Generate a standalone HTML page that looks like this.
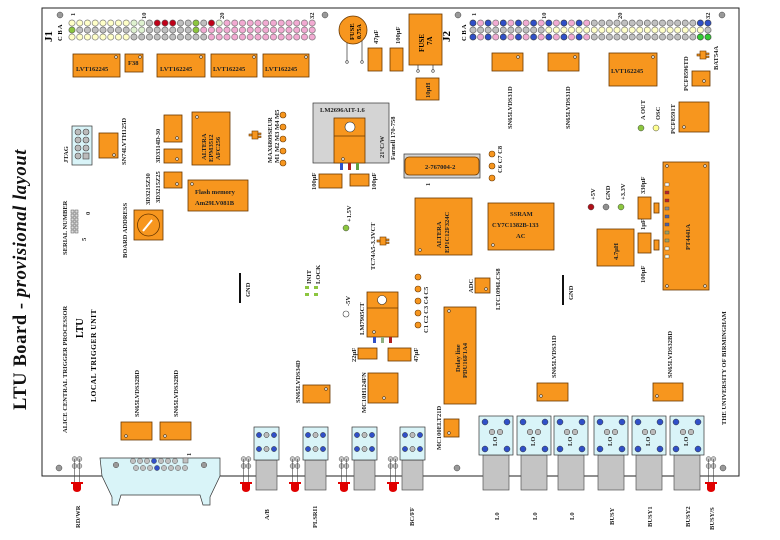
<!DOCTYPE html>
<html><head><meta charset="utf-8"><style>
html,body{margin:0;padding:0;background:#fff;}
svg{display:block;font-family:"Liberation Serif",serif;font-weight:bold;}
.o{fill:#f7961e;stroke:#6a3800;stroke-width:.8}
.t{font-size:6.5px;fill:#222}
.w{fill:#fff;stroke:#333;stroke-width:.6}
.lb{fill:#d9f4f8;stroke:#333;stroke-width:.7}
.g{fill:#c4c4c4;stroke:#555;stroke-width:.7}
</style></head><body>
<svg width="780" height="540" viewBox="0 0 780 540" xmlns="http://www.w3.org/2000/svg">
<defs>
<pattern id="pY" patternUnits="userSpaceOnUse" x="68.1" y="19.5" width="7.75" height="7"><circle cx="3.875" cy="3.5" r="3.1" fill="#ffffc8" stroke="#666" stroke-width=".6"/></pattern>
<pattern id="pG" patternUnits="userSpaceOnUse" x="68.1" y="19.5" width="7.75" height="7"><circle cx="3.875" cy="3.5" r="3.1" fill="#c0c0c0" stroke="#555" stroke-width=".6"/></pattern>
<pattern id="pP" patternUnits="userSpaceOnUse" x="68.1" y="19.5" width="7.75" height="7"><circle cx="3.875" cy="3.5" r="3.1" fill="#f2aad2" stroke="#666" stroke-width=".6"/></pattern>
<pattern id="pR" patternUnits="userSpaceOnUse" x="68.1" y="19.5" width="7.75" height="7"><circle cx="3.875" cy="3.5" r="3.1" fill="#c00018" stroke="#555" stroke-width=".6"/></pattern>
<pattern id="pL" patternUnits="userSpaceOnUse" x="68.1" y="19.5" width="7.75" height="7"><circle cx="3.875" cy="3.5" r="3.1" fill="#dff2d0" stroke="#666" stroke-width=".6"/></pattern>
<pattern id="pN" patternUnits="userSpaceOnUse" x="68.1" y="19.5" width="7.75" height="7"><circle cx="3.875" cy="3.5" r="3.1" fill="#8cc63f" stroke="#555" stroke-width=".6"/></pattern>
<pattern id="qBP" patternUnits="userSpaceOnUse" x="469.2" y="19.5" width="15.16" height="7"><circle cx="3.79" cy="3.5" r="3.1" fill="#3050c8" stroke="#333" stroke-width=".6"/><circle cx="11.37" cy="3.5" r="3.1" fill="#f2aad2" stroke="#666" stroke-width=".6"/></pattern>
<pattern id="qG" patternUnits="userSpaceOnUse" x="469.2" y="19.5" width="7.58" height="7"><circle cx="3.79" cy="3.5" r="3.1" fill="#c0c0c0" stroke="#555" stroke-width=".6"/></pattern>
<pattern id="qY" patternUnits="userSpaceOnUse" x="469.2" y="19.5" width="7.58" height="7"><circle cx="3.79" cy="3.5" r="3.1" fill="#ffffc8" stroke="#666" stroke-width=".6"/></pattern>
<pattern id="qB" patternUnits="userSpaceOnUse" x="469.2" y="19.5" width="7.58" height="7"><circle cx="3.79" cy="3.5" r="3.1" fill="#3050c8" stroke="#333" stroke-width=".6"/></pattern>
<pattern id="qN" patternUnits="userSpaceOnUse" x="469.2" y="19.5" width="7.58" height="7"><circle cx="3.79" cy="3.5" r="3.1" fill="#33cc33" stroke="#333" stroke-width=".6"/></pattern>
</defs>

<rect x="42" y="8" width="697" height="468" fill="#fff" stroke="#222" stroke-width="1"/>

<text transform="translate(26,410) rotate(-90)" font-size="18.5" letter-spacing=".6" fill="#111">LTU Board - <tspan font-style="italic">provisional layout</tspan></text>

<!-- J1 -->
<circle cx="60" cy="15" r="3" fill="#999" stroke="#444" stroke-width=".5"/>
<circle cx="325" cy="15" r="3" fill="#999" stroke="#444" stroke-width=".5"/>
<text transform="translate(52,42) rotate(-90)" font-size="11">J1</text>
<text transform="translate(62,41) rotate(-90)" font-size="6.5">C B A</text>
<text transform="translate(75,16) rotate(-90)" class="t">1</text>
<text transform="translate(146,19) rotate(-90)" class="t">10</text>
<text transform="translate(224,19) rotate(-90)" class="t">20</text>
<text transform="translate(314,19) rotate(-90)" class="t">32</text>
<rect x="68.1" y="19.5" width="62" height="7" fill="url(#pY)"/>
<rect x="130.1" y="19.5" width="15.5" height="7" fill="url(#pL)"/>
<rect x="145.6" y="19.5" width="7.75" height="7" fill="url(#pG)"/>
<rect x="153.35" y="19.5" width="23.25" height="7" fill="url(#pR)"/>
<rect x="176.6" y="19.5" width="15.5" height="7" fill="url(#pG)"/>
<rect x="192.1" y="19.5" width="7.75" height="7" fill="url(#pN)"/>
<rect x="199.85" y="19.5" width="7.75" height="7" fill="url(#pG)"/>
<rect x="207.6" y="19.5" width="7.75" height="7" fill="url(#pR)"/>
<rect x="215.35" y="19.5" width="7.75" height="7" fill="url(#pL)"/>
<rect x="223.1" y="19.5" width="93" height="7" fill="url(#pP)"/>
<rect x="68.1" y="26.5" width="7.75" height="7" fill="url(#pN)"/>
<rect x="75.85" y="26.5" width="54.25" height="7" fill="url(#pG)"/>
<rect x="130.1" y="26.5" width="15.5" height="7" fill="url(#pL)"/>
<rect x="145.6" y="26.5" width="46.5" height="7" fill="url(#pG)"/>
<rect x="192.1" y="26.5" width="7.75" height="7" fill="url(#pN)"/>
<rect x="199.85" y="26.5" width="116.25" height="7" fill="url(#pP)"/>
<rect x="68.1" y="33.5" width="62" height="7" fill="url(#pY)"/>
<rect x="130.1" y="33.5" width="77.5" height="7" fill="url(#pG)"/>
<rect x="207.6" y="33.5" width="108.5" height="7" fill="url(#pP)"/>

<!-- J2 -->
<circle cx="458" cy="15" r="3" fill="#999" stroke="#444" stroke-width=".5"/>
<circle cx="722" cy="15" r="3" fill="#999" stroke="#444" stroke-width=".5"/>
<text transform="translate(450,42) rotate(-90)" font-size="11">J2</text>
<text transform="translate(466,41) rotate(-90)" font-size="6.5">C B A</text>
<text transform="translate(476,16) rotate(-90)" class="t">1</text>
<text transform="translate(546,19) rotate(-90)" class="t">10</text>
<text transform="translate(622,19) rotate(-90)" class="t">20</text>
<text transform="translate(710,19) rotate(-90)" class="t">32</text>
<rect x="469.2" y="19.5" width="121.3" height="7" fill="url(#qBP)"/>
<rect x="590.5" y="19.5" width="106.1" height="7" fill="url(#qG)"/>
<rect x="696.6" y="19.5" width="15.2" height="7" fill="url(#qB)"/>
<rect x="469.2" y="26.5" width="75.8" height="7" fill="url(#qG)"/>
<rect x="545" y="26.5" width="159.2" height="7" fill="url(#qY)"/>
<rect x="704.2" y="26.5" width="7.6" height="7" fill="url(#qG)"/>
<rect x="469.2" y="33.5" width="121.3" height="7" fill="url(#qBP)"/>
<rect x="590.5" y="33.5" width="106.1" height="7" fill="url(#qG)"/>
<rect x="696.6" y="33.5" width="15.2" height="7" fill="url(#qN)"/>

<rect class="o" x="73" y="54" width="47" height="23"/><text class="t" x="76" y="71">LVT162245</text><circle class="w" cx="116" cy="57" r="1.3"/>
<rect class="o" x="125" y="54" width="18" height="18"/><text class="t" x="128" y="65">F38</text><circle class="w" cx="140" cy="57" r="1.3"/>
<rect class="o" x="157" y="54" width="48" height="23"/><text class="t" x="160" y="71">LVT162245</text><circle class="w" cx="201" cy="57" r="1.3"/>
<rect class="o" x="211" y="54" width="46" height="23"/><text class="t" x="213" y="71">LVT162245</text><circle class="w" cx="254" cy="57" r="1.3"/>
<rect class="o" x="263" y="54" width="46" height="23"/><text class="t" x="265" y="71">LVT162245</text><circle class="w" cx="306" cy="57" r="1.3"/>

<line x1="347" y1="40" x2="347" y2="62" stroke="#333" stroke-width=".7"/><line x1="362" y1="40" x2="362" y2="62" stroke="#333" stroke-width=".7"/>
<circle cx="347" cy="62" r="1.3" class="w"/><circle cx="362" cy="62" r="1.3" class="w"/>
<circle class="o" cx="353" cy="30" r="14"/>
<text transform="translate(354,40) rotate(-90)" font-size="6.5">FUSE</text>
<text transform="translate(361,39) rotate(-90)" font-size="6">0.75A</text>
<rect class="o" x="368" y="48" width="14" height="23"/><text transform="translate(378,44) rotate(-90)" class="t">47µF</text>
<rect class="o" x="390" y="48" width="13" height="23"/><text transform="translate(400,44) rotate(-90)" class="t">100µF</text>
<rect class="o" x="409" y="14" width="33" height="51"/>
<text transform="translate(424,52) rotate(-90)" font-size="7">FUSE</text><text transform="translate(432,45) rotate(-90)" font-size="7">7A</text>
<line x1="418" y1="65" x2="418" y2="71" stroke="#333" stroke-width=".7"/><line x1="433" y1="65" x2="433" y2="71" stroke="#333" stroke-width=".7"/>
<circle cx="418" cy="71" r="1.3" class="w"/><circle cx="433" cy="71" r="1.3" class="w"/>
<rect class="o" x="416" y="78" width="23" height="22"/><text transform="translate(430,98) rotate(-90)" class="t">10µH</text>

<rect class="lb" x="72" y="126" width="20" height="39"/>
<g fill="#bbb" stroke="#444" stroke-width=".6">
<circle cx="78" cy="132" r="3"/><circle cx="86" cy="132" r="3"/><circle cx="78" cy="140" r="3"/><circle cx="86" cy="140" r="3"/>
<circle cx="78" cy="148" r="3"/><circle cx="86" cy="148" r="3"/><circle cx="78" cy="156" r="3"/><rect x="83" y="153" width="6" height="6"/></g>
<text transform="translate(68,163) rotate(-90)" class="t">JTAG</text>
<rect class="o" x="99" y="133" width="19" height="25"/><circle class="w" cx="114" cy="155" r="1.3"/>
<text transform="translate(126,165) rotate(-90)" class="t">SN74LVTH125D</text>

<rect class="o" x="164" y="115" width="18" height="27"/><circle class="w" cx="177" cy="138" r="1.3"/>
<rect class="o" x="164" y="149" width="18" height="14"/><circle class="w" cx="177" cy="159" r="1.3"/>
<rect class="o" x="164" y="172" width="18" height="16"/><circle class="w" cx="177" cy="184" r="1.3"/>
<text transform="translate(150,205) rotate(-90)" class="t">3D3215Z30</text>
<text transform="translate(160,203) rotate(-90)" class="t">3D3215Z25</text>
<text transform="translate(160,163) rotate(-90)" class="t">3D3314D-30</text>

<rect class="o" x="192" y="112" width="38" height="53"/><circle class="w" cx="197" cy="117" r="1.3"/>
<text transform="translate(206,160) rotate(-90)" class="t">ALTERA</text>
<text transform="translate(213,162) rotate(-90)" class="t">EPM3512</text>
<text transform="translate(220,160) rotate(-90)" class="t">AFC256</text>

<rect class="o" x="188" y="180" width="60" height="31"/><circle class="w" cx="192" cy="184" r="1.3"/>
<text x="195" y="194" class="t">Flash memory</text><text x="195" y="205" class="t">Am29LV081B</text>

<g fill="#f7961e" stroke="#6a3800" stroke-width=".6">
<rect x="252" y="131" width="6" height="8"/><rect x="258" y="133" width="3" height="1.5"/><rect x="258" y="136" width="3" height="1.5"/><rect x="249" y="134" width="3" height="2"/>
<rect x="380" y="237" width="6" height="8"/><rect x="386" y="239" width="3" height="1.5"/><rect x="386" y="242" width="3" height="1.5"/><rect x="377" y="240" width="3" height="2"/>
<rect x="700" y="51" width="6" height="8"/><rect x="706" y="53" width="3" height="1.5"/><rect x="706" y="56" width="3" height="1.5"/><rect x="697" y="54" width="3" height="2"/>
</g>
<text transform="translate(272,163) rotate(-90)" class="t">MAX6809SEUR</text>
<text transform="translate(279,163) rotate(-90)" class="t">M1 M2 M3 M4 M5</text>
<g fill="#f7961e" stroke="#6a3800" stroke-width=".6">
<circle cx="283" cy="115" r="3"/><circle cx="283" cy="127" r="3"/><circle cx="283" cy="139" r="3"/><circle cx="283" cy="151" r="3"/><circle cx="283" cy="163" r="3"/>
<circle cx="492" cy="154" r="3"/><circle cx="492" cy="166" r="3"/><circle cx="492" cy="178" r="3"/>
<circle cx="418" cy="277" r="3"/><circle cx="418" cy="289" r="3"/><circle cx="418" cy="301" r="3"/><circle cx="418" cy="313" r="3"/><circle cx="418" cy="325" r="3"/>
</g>
<text transform="translate(502,173) rotate(-90)" class="t">C6 C7 C8</text>
<text transform="translate(428,333) rotate(-90)" class="t">C1 C2 C3 C4 C5</text>

<text transform="translate(67,255) rotate(-90)" class="t">SERIAL NUMBER</text>
<g fill="#ddd" stroke="#555" stroke-width=".5">
<rect x="71" y="210" width="3" height="3"/><rect x="71" y="214" width="3" height="3"/><rect x="71" y="218" width="3" height="3"/><rect x="71" y="222" width="3" height="3"/><rect x="71" y="226" width="3" height="3"/><rect x="71" y="230" width="3" height="3"/>
<rect x="75" y="210" width="3" height="3"/><rect x="75" y="214" width="3" height="3"/><rect x="75" y="218" width="3" height="3"/><rect x="75" y="222" width="3" height="3"/><rect x="75" y="226" width="3" height="3"/><rect x="75" y="230" width="3" height="3"/>
</g>
<text transform="translate(86,241) rotate(-90)" class="t">5</text>
<text transform="translate(90,215) rotate(-90)" class="t">0</text>
<text transform="translate(127,258) rotate(-90)" class="t">BOARD ADDRESS</text>
<rect class="o" x="134" y="210" width="29" height="30"/>
<circle cx="148.5" cy="225" r="11" fill="none" stroke="#6a3800" stroke-width=".8"/>
<line x1="143" y1="231" x2="152" y2="220" stroke="#fff" stroke-width="2"/>

<rect x="313" y="103" width="76" height="60" fill="#d4d4d4" stroke="#333" stroke-width=".7"/>
<text x="320" y="112" class="t">LM2696AIT-1.6</text>
<rect class="o" x="334" y="118" width="31" height="45"/><line x1="334" y1="136" x2="365" y2="136" stroke="#6a3800" stroke-width=".7"/>
<circle cx="350" cy="127" r="5" fill="#fff" stroke="#333" stroke-width=".6"/><circle class="w" cx="343" cy="159" r="1.3"/>
<rect x="340" y="163" width="3" height="7" fill="#3050c8"/><rect x="348" y="163" width="3" height="7" fill="#b02020"/><rect x="356" y="163" width="3" height="7" fill="#60a040"/>
<text transform="translate(384,158) rotate(-90)" class="t">21°C/W</text>
<text transform="translate(395,160) rotate(-90)" class="t">Farnell 170-758</text>
<rect class="o" x="319" y="174" width="23" height="14"/><text transform="translate(316,190) rotate(-90)" class="t">100µF</text>
<rect class="o" x="350" y="174" width="19" height="12"/><text transform="translate(376,190) rotate(-90)" class="t">100µF</text>
<circle cx="346" cy="228" r="3" fill="#8cc63f" stroke="#444" stroke-width=".5"/>
<text transform="translate(351,222) rotate(-90)" class="t">+1.5V</text>
<text transform="translate(375,270) rotate(-90)" class="t">TC74A5-3.3VCT</text>

<rect x="404" y="154" width="76" height="24" fill="#d4d4d4" stroke="#333" stroke-width=".7"/>
<rect x="405" y="157" width="74" height="18" rx="4" class="o"/>
<text x="425" y="169" class="t">2-767004-2</text>
<text transform="translate(430,186) rotate(-90)" class="t">1</text>

<rect class="o" x="415" y="198" width="57" height="57"/><circle class="w" cx="420" cy="250" r="1.3"/>
<text transform="translate(441,248) rotate(-90)" class="t">ALTERA</text>
<text transform="translate(449,253) rotate(-90)" class="t">EP1C12F324C</text>

<rect class="o" x="488" y="203" width="66" height="47"/><circle class="w" cx="493" cy="245" r="1.3"/>
<text x="510" y="216" class="t">SSRAM</text><text x="492" y="227" class="t">CY7C1382B-133</text><text x="516" y="238" class="t">AC</text>

<circle cx="591" cy="207" r="3" fill="#b01018" stroke="#444" stroke-width=".5"/>
<circle cx="606" cy="207" r="3" fill="#909090" stroke="#444" stroke-width=".5"/>
<circle cx="621" cy="207" r="3" fill="#8cc63f" stroke="#444" stroke-width=".5"/>
<text transform="translate(595,200) rotate(-90)" class="t">+5V</text>
<text transform="translate(610,200) rotate(-90)" class="t">GND</text>
<text transform="translate(625,200) rotate(-90)" class="t">+3.3V</text>
<rect class="o" x="638" y="197" width="13" height="22"/><rect class="o" x="654" y="203" width="5" height="10"/>
<text transform="translate(645,194) rotate(-90)" class="t">330µF</text>
<rect class="o" x="638" y="233" width="13" height="20"/><rect class="o" x="654" y="240" width="5" height="10"/>
<text transform="translate(645,230) rotate(-90)" class="t">1µF</text>
<text transform="translate(645,283) rotate(-90)" class="t">100µF</text>
<rect class="o" x="597" y="229" width="37" height="37"/><text transform="translate(618,260) rotate(-90)" class="t">4.7µH</text>

<rect class="o" x="663" y="162" width="46" height="128"/>
<circle class="w" cx="667" cy="166" r="1.3"/><circle class="w" cx="705" cy="166" r="1.3"/><circle class="w" cx="667" cy="286" r="1.3"/><circle class="w" cx="705" cy="286" r="1.3"/>
<g stroke="#444" stroke-width=".4">
<rect x="665" y="183" width="4" height="3" fill="#fff"/><rect x="665" y="191" width="4" height="3" fill="#c02020"/><rect x="665" y="199" width="4" height="3" fill="#c02020"/><rect x="665" y="207" width="4" height="3" fill="#888"/><rect x="665" y="215" width="4" height="3" fill="#5060a0"/><rect x="665" y="223" width="4" height="3" fill="#5060a0"/><rect x="665" y="231" width="4" height="3" fill="#a0a060"/><rect x="665" y="239" width="4" height="3" fill="#a0a060"/><rect x="665" y="247" width="4" height="3" fill="#ffe"/><rect x="665" y="255" width="4" height="3" fill="#ffe"/>
</g>
<text transform="translate(690,250) rotate(-90)" class="t">PT4441A</text>

<rect class="o" x="679" y="102" width="30" height="30"/><circle class="w" cx="684" cy="127" r="1.3"/>
<text transform="translate(675,134) rotate(-90)" class="t">PCF8591T</text>
<rect class="o" x="692" y="71" width="18" height="15"/><circle class="w" cx="704" cy="81" r="1.3"/>
<text transform="translate(688,91) rotate(-90)" class="t">PCF8596TD</text>
<text transform="translate(718,70) rotate(-90)" class="t">BAT54A</text>
<circle cx="641" cy="128" r="3" fill="#8cc63f" stroke="#444" stroke-width=".5"/>
<circle cx="656" cy="128" r="3" fill="#ffff90" stroke="#444" stroke-width=".5"/>
<text transform="translate(645,120) rotate(-90)" class="t">A OUT</text>
<text transform="translate(660,120) rotate(-90)" class="t">OSC</text>

<rect class="o" x="609" y="53" width="48" height="33"/><circle class="w" cx="653" cy="57" r="1.3"/>
<text x="611" y="73" class="t">LVT162245</text>
<rect class="o" x="492" y="53" width="31" height="18"/><circle class="w" cx="518" cy="57" r="1.3"/>
<text transform="translate(512,129) rotate(-90)" class="t">SN65LVDS31D</text>
<rect class="o" x="548" y="53" width="31" height="18"/><circle class="w" cx="575" cy="57" r="1.3"/>
<text transform="translate(570,129) rotate(-90)" class="t">SN65LVDS31D</text>

<line x1="240" y1="273" x2="240" y2="303" stroke="#111" stroke-width="2"/>
<text transform="translate(250,297) rotate(-90)" class="t">GND</text>
<line x1="563" y1="275" x2="563" y2="305" stroke="#111" stroke-width="2"/>
<text transform="translate(573,300) rotate(-90)" class="t">GND</text>
<rect x="305" y="286" width="4" height="3" fill="#8cc63f"/><rect x="305" y="293" width="4" height="3" fill="#8cc63f"/>
<rect x="314" y="286" width="4" height="3" fill="#8cc63f"/><rect x="314" y="293" width="4" height="3" fill="#8cc63f"/>
<text transform="translate(311,284) rotate(-90)" class="t">INIT</text>
<text transform="translate(320,284) rotate(-90)" class="t">LOCK</text>

<circle cx="346" cy="314" r="3" fill="#fff" stroke="#444" stroke-width=".6"/>
<text transform="translate(350,306) rotate(-90)" class="t">-5V</text>
<rect class="o" x="367" y="292" width="31" height="45"/><line x1="367" y1="308" x2="398" y2="308" stroke="#6a3800" stroke-width=".7"/>
<circle cx="382" cy="300" r="4.5" fill="#fff" stroke="#333" stroke-width=".6"/><circle class="w" cx="374" cy="332" r="1.3"/>
<rect x="373" y="337" width="3" height="6" fill="#3050c8"/><rect x="381" y="337" width="3" height="6" fill="#90b080"/><rect x="389" y="337" width="3" height="6" fill="#b02020"/>
<text transform="translate(364,335) rotate(-90)" class="t">LM7905CT</text>
<rect class="o" x="358" y="348" width="19" height="11"/><text transform="translate(356,362) rotate(-90)" class="t">22µF</text>
<rect class="o" x="388" y="348" width="23" height="13"/><text transform="translate(418,362) rotate(-90)" class="t">47µF</text>
<rect class="o" x="368" y="373" width="30" height="30"/><circle class="w" cx="384" cy="398" r="1.3"/>
<text transform="translate(366,413) rotate(-90)" class="t">MC10H124FN</text>

<rect class="o" x="475" y="278" width="15" height="15"/><circle class="w" cx="486" cy="289" r="1.3"/>
<text transform="translate(473,293) rotate(-90)" class="t">ADC</text>
<text transform="translate(500,310) rotate(-90)" class="t">LTC1096LCS8</text>
<rect class="o" x="444" y="307" width="32" height="97"/><circle class="w" cx="449" cy="311" r="1.3"/>
<text transform="translate(460,372) rotate(-90)" class="t">Delay line</text>
<text transform="translate(467,378) rotate(-90)" class="t">PDU16F1A4</text>

<rect class="o" x="303" y="385" width="27" height="18"/><circle class="w" cx="326" cy="389" r="1.3"/>
<text transform="translate(300,403) rotate(-90)" class="t">SN65LVDS34D</text>
<rect class="o" x="444" y="419" width="15" height="18"/><circle class="w" cx="449" cy="433" r="1.3"/>
<text transform="translate(441,450) rotate(-90)" class="t">MC100ELT21D</text>
<rect class="o" x="537" y="383" width="31" height="18"/><circle class="w" cx="541" cy="396" r="1.3"/>
<text transform="translate(556,378) rotate(-90)" class="t">SN65LVDS31D</text>
<rect class="o" x="653" y="383" width="30" height="18"/><circle class="w" cx="657" cy="396" r="1.3"/>
<text transform="translate(672,378) rotate(-90)" class="t">SN65LVDS32BD</text>
<text transform="translate(726,425) rotate(-90)" class="t">THE UNIVERSITY OF BIRMINGHAM</text>

<text transform="translate(67,433) rotate(-90)" class="t">ALICE CENTRAL TRIGGER PROCESSOR</text>
<text transform="translate(83,338) rotate(-90)" font-size="10">LTU</text>
<text transform="translate(96,402) rotate(-90)" font-size="7.5" letter-spacing=".5">LOCAL TRIGGER UNIT</text>
<text transform="translate(139,417) rotate(-90)" class="t">SN65LVDS32BD</text>
<text transform="translate(178,417) rotate(-90)" class="t">SN65LVDS32BD</text>
<rect class="o" x="121" y="422" width="31" height="18"/><circle class="w" cx="126" cy="436" r="1.3"/>
<rect class="o" x="160" y="422" width="31" height="18"/><circle class="w" cx="165" cy="436" r="1.3"/>

<path d="M100 458 H220 V476 L210 497 V505 H203 L200 495 H121 L118 505 H112 V497 L102 476 Z" class="lb"/>
<g fill="#c0c0c0" stroke="#555" stroke-width=".5">
<circle cx="116" cy="465" r="2.8" fill="#999"/><circle cx="204" cy="465" r="2.8" fill="#999"/>
<circle cx="133" cy="461" r="2.6"/><circle cx="140" cy="461" r="2.6"/><circle cx="147" cy="461" r="2.6"/><circle cx="154" cy="461" r="2.6" fill="#3050c8"/><circle cx="161" cy="461" r="2.6"/><circle cx="168" cy="461" r="2.6"/><circle cx="175" cy="461" r="2.6"/><rect x="183" y="458" width="5" height="5"/>
<circle cx="136" cy="468" r="2.6"/><circle cx="143" cy="468" r="2.6"/><circle cx="150" cy="468" r="2.6"/><circle cx="157" cy="468" r="2.6" fill="#3050c8"/><circle cx="164" cy="468" r="2.6"/><circle cx="171" cy="468" r="2.6"/><circle cx="178" cy="468" r="2.6"/><circle cx="185" cy="468" r="2.6"/>
</g>
<text transform="translate(191,456) rotate(-90)" class="t">1</text>
<circle cx="59" cy="468" r="3" fill="#999" stroke="#444" stroke-width=".5"/>
<circle cx="457" cy="468" r="3" fill="#999" stroke="#444" stroke-width=".5"/>
<circle cx="723" cy="468" r="3" fill="#999" stroke="#444" stroke-width=".5"/>

<g>
<g transform="translate(77,0)"><g fill="#c8c8c8" stroke="#555" stroke-width=".5"><circle cx="-2.5" cy="459" r="2.4"/><circle cx="2.5" cy="459" r="2.4"/><circle cx="-2.5" cy="466" r="2.4"/><circle cx="2.5" cy="466" r="2.4"/></g><line x1="-2.5" y1="459" x2="-2.5" y2="482" stroke="#444" stroke-width=".6"/><line x1="2.5" y1="459" x2="2.5" y2="482" stroke="#444" stroke-width=".6"/><path d="M-6 482 H6 V484 H4 V489 A4 3 0 0 1 -4 489 V484 H-6 Z" fill="#e00000"/></g>
<g transform="translate(246,0)"><g fill="#c8c8c8" stroke="#555" stroke-width=".5"><circle cx="-2.5" cy="459" r="2.4"/><circle cx="2.5" cy="459" r="2.4"/><circle cx="-2.5" cy="466" r="2.4"/><circle cx="2.5" cy="466" r="2.4"/></g><line x1="-2.5" y1="459" x2="-2.5" y2="482" stroke="#444" stroke-width=".6"/><line x1="2.5" y1="459" x2="2.5" y2="482" stroke="#444" stroke-width=".6"/><path d="M-6 482 H6 V484 H4 V489 A4 3 0 0 1 -4 489 V484 H-6 Z" fill="#e00000"/></g>
<g transform="translate(295,0)"><g fill="#c8c8c8" stroke="#555" stroke-width=".5"><circle cx="-2.5" cy="459" r="2.4"/><circle cx="2.5" cy="459" r="2.4"/><circle cx="-2.5" cy="466" r="2.4"/><circle cx="2.5" cy="466" r="2.4"/></g><line x1="-2.5" y1="459" x2="-2.5" y2="482" stroke="#444" stroke-width=".6"/><line x1="2.5" y1="459" x2="2.5" y2="482" stroke="#444" stroke-width=".6"/><path d="M-6 482 H6 V484 H4 V489 A4 3 0 0 1 -4 489 V484 H-6 Z" fill="#e00000"/></g>
<g transform="translate(344,0)"><g fill="#c8c8c8" stroke="#555" stroke-width=".5"><circle cx="-2.5" cy="459" r="2.4"/><circle cx="2.5" cy="459" r="2.4"/><circle cx="-2.5" cy="466" r="2.4"/><circle cx="2.5" cy="466" r="2.4"/></g><line x1="-2.5" y1="459" x2="-2.5" y2="482" stroke="#444" stroke-width=".6"/><line x1="2.5" y1="459" x2="2.5" y2="482" stroke="#444" stroke-width=".6"/><path d="M-6 482 H6 V484 H4 V489 A4 3 0 0 1 -4 489 V484 H-6 Z" fill="#e00000"/></g>
<g transform="translate(393,0)"><g fill="#c8c8c8" stroke="#555" stroke-width=".5"><circle cx="-2.5" cy="459" r="2.4"/><circle cx="2.5" cy="459" r="2.4"/><circle cx="-2.5" cy="466" r="2.4"/><circle cx="2.5" cy="466" r="2.4"/></g><line x1="-2.5" y1="459" x2="-2.5" y2="482" stroke="#444" stroke-width=".6"/><line x1="2.5" y1="459" x2="2.5" y2="482" stroke="#444" stroke-width=".6"/><path d="M-6 482 H6 V484 H4 V489 A4 3 0 0 1 -4 489 V484 H-6 Z" fill="#e00000"/></g>
<g transform="translate(711,0)"><g fill="#c8c8c8" stroke="#555" stroke-width=".5"><circle cx="-2.5" cy="459" r="2.4"/><circle cx="2.5" cy="459" r="2.4"/><circle cx="-2.5" cy="466" r="2.4"/><circle cx="2.5" cy="466" r="2.4"/></g><line x1="-2.5" y1="459" x2="-2.5" y2="482" stroke="#444" stroke-width=".6"/><line x1="2.5" y1="459" x2="2.5" y2="482" stroke="#444" stroke-width=".6"/><path d="M-6 482 H6 V484 H4 V489 A4 3 0 0 1 -4 489 V484 H-6 Z" fill="#e00000"/></g>
</g>

<g>
<g transform="translate(254,427)"><rect class="g" x="2" y="33" width="21" height="30"/><rect class="lb" x="0" y="0" width="25" height="33"/><g stroke="#333" stroke-width=".5"><circle cx="5" cy="8" r="2.6" fill="#3050c8"/><circle cx="12.5" cy="8" r="2.6" fill="#bbb"/><circle cx="20" cy="8" r="2.6" fill="#3050c8"/><circle cx="5" cy="22" r="2.6" fill="#3050c8"/><circle cx="12.5" cy="22" r="2.6" fill="#bbb"/><circle cx="20" cy="22" r="2.6" fill="#3050c8"/></g></g>
<g transform="translate(303,427)"><rect class="g" x="2" y="33" width="21" height="30"/><rect class="lb" x="0" y="0" width="25" height="33"/><g stroke="#333" stroke-width=".5"><circle cx="5" cy="8" r="2.6" fill="#3050c8"/><circle cx="12.5" cy="8" r="2.6" fill="#bbb"/><circle cx="20" cy="8" r="2.6" fill="#3050c8"/><circle cx="5" cy="22" r="2.6" fill="#3050c8"/><circle cx="12.5" cy="22" r="2.6" fill="#bbb"/><circle cx="20" cy="22" r="2.6" fill="#3050c8"/></g></g>
<g transform="translate(352,427)"><rect class="g" x="2" y="33" width="21" height="30"/><rect class="lb" x="0" y="0" width="25" height="33"/><g stroke="#333" stroke-width=".5"><circle cx="5" cy="8" r="2.6" fill="#3050c8"/><circle cx="12.5" cy="8" r="2.6" fill="#bbb"/><circle cx="20" cy="8" r="2.6" fill="#3050c8"/><circle cx="5" cy="22" r="2.6" fill="#3050c8"/><circle cx="12.5" cy="22" r="2.6" fill="#bbb"/><circle cx="20" cy="22" r="2.6" fill="#3050c8"/></g></g>
<g transform="translate(400,427)"><rect class="g" x="2" y="33" width="21" height="30"/><rect class="lb" x="0" y="0" width="25" height="33"/><g stroke="#333" stroke-width=".5"><circle cx="5" cy="8" r="2.6" fill="#3050c8"/><circle cx="12.5" cy="8" r="2.6" fill="#bbb"/><circle cx="20" cy="8" r="2.6" fill="#3050c8"/><circle cx="5" cy="22" r="2.6" fill="#3050c8"/><circle cx="12.5" cy="22" r="2.6" fill="#bbb"/><circle cx="20" cy="22" r="2.6" fill="#3050c8"/></g></g>
</g>

<g>
<g transform="translate(479,416)"><rect class="g" x="4" y="39" width="26" height="35"/><rect class="lb" x="0" y="0" width="34" height="39"/><g stroke="#333" stroke-width=".5"><circle cx="6" cy="6" r="3" fill="#3050c8"/><circle cx="28" cy="6" r="3" fill="#3050c8"/><circle cx="6" cy="33" r="3" fill="#3050c8"/><circle cx="28" cy="33" r="3" fill="#3050c8"/><circle cx="13" cy="16" r="2.8" fill="#bbb"/><circle cx="21" cy="16" r="2.8" fill="#bbb"/></g><text transform="translate(18,30) rotate(-90)" class="t">LO</text></g>
<g transform="translate(517,416)"><rect class="g" x="4" y="39" width="26" height="35"/><rect class="lb" x="0" y="0" width="34" height="39"/><g stroke="#333" stroke-width=".5"><circle cx="6" cy="6" r="3" fill="#3050c8"/><circle cx="28" cy="6" r="3" fill="#3050c8"/><circle cx="6" cy="33" r="3" fill="#3050c8"/><circle cx="28" cy="33" r="3" fill="#3050c8"/><circle cx="13" cy="16" r="2.8" fill="#bbb"/><circle cx="21" cy="16" r="2.8" fill="#bbb"/></g><text transform="translate(18,30) rotate(-90)" class="t">LO</text></g>
<g transform="translate(554,416)"><rect class="g" x="4" y="39" width="26" height="35"/><rect class="lb" x="0" y="0" width="34" height="39"/><g stroke="#333" stroke-width=".5"><circle cx="6" cy="6" r="3" fill="#3050c8"/><circle cx="28" cy="6" r="3" fill="#3050c8"/><circle cx="6" cy="33" r="3" fill="#3050c8"/><circle cx="28" cy="33" r="3" fill="#3050c8"/><circle cx="13" cy="16" r="2.8" fill="#bbb"/><circle cx="21" cy="16" r="2.8" fill="#bbb"/></g><text transform="translate(18,30) rotate(-90)" class="t">LO</text></g>
<g transform="translate(594,416)"><rect class="g" x="4" y="39" width="26" height="35"/><rect class="lb" x="0" y="0" width="34" height="39"/><g stroke="#333" stroke-width=".5"><circle cx="6" cy="6" r="3" fill="#3050c8"/><circle cx="28" cy="6" r="3" fill="#3050c8"/><circle cx="6" cy="33" r="3" fill="#3050c8"/><circle cx="28" cy="33" r="3" fill="#3050c8"/><circle cx="13" cy="16" r="2.8" fill="#bbb"/><circle cx="21" cy="16" r="2.8" fill="#bbb"/></g><text transform="translate(18,30) rotate(-90)" class="t">LO</text></g>
<g transform="translate(632,416)"><rect class="g" x="4" y="39" width="26" height="35"/><rect class="lb" x="0" y="0" width="34" height="39"/><g stroke="#333" stroke-width=".5"><circle cx="6" cy="6" r="3" fill="#3050c8"/><circle cx="28" cy="6" r="3" fill="#3050c8"/><circle cx="6" cy="33" r="3" fill="#3050c8"/><circle cx="28" cy="33" r="3" fill="#3050c8"/><circle cx="13" cy="16" r="2.8" fill="#bbb"/><circle cx="21" cy="16" r="2.8" fill="#bbb"/></g><text transform="translate(18,30) rotate(-90)" class="t">LO</text></g>
<g transform="translate(670,416)"><rect class="g" x="4" y="39" width="26" height="35"/><rect class="lb" x="0" y="0" width="34" height="39"/><g stroke="#333" stroke-width=".5"><circle cx="6" cy="6" r="3" fill="#3050c8"/><circle cx="28" cy="6" r="3" fill="#3050c8"/><circle cx="6" cy="33" r="3" fill="#3050c8"/><circle cx="28" cy="33" r="3" fill="#3050c8"/><circle cx="13" cy="16" r="2.8" fill="#bbb"/><circle cx="21" cy="16" r="2.8" fill="#bbb"/></g><text transform="translate(18,30) rotate(-90)" class="t">LO</text></g>
</g>

<text transform="translate(80,528) rotate(-90)" class="t">RD/WR</text>
<text transform="translate(269,520) rotate(-90)" class="t">A/B</text>
<text transform="translate(317,528) rotate(-90)" class="t">PLSRI1</text>
<text transform="translate(414,526) rotate(-90)" class="t">BC/FF</text>
<text transform="translate(499,520) rotate(-90)" class="t">L0</text>
<text transform="translate(537,520) rotate(-90)" class="t">L0</text>
<text transform="translate(574,520) rotate(-90)" class="t">L0</text>
<text transform="translate(614,525) rotate(-90)" class="t">BUSY</text>
<text transform="translate(652,527) rotate(-90)" class="t">BUSY1</text>
<text transform="translate(690,527) rotate(-90)" class="t">BUSY2</text>
<text transform="translate(714,530) rotate(-90)" class="t">BUSY/S</text>
</svg>
</body></html>
